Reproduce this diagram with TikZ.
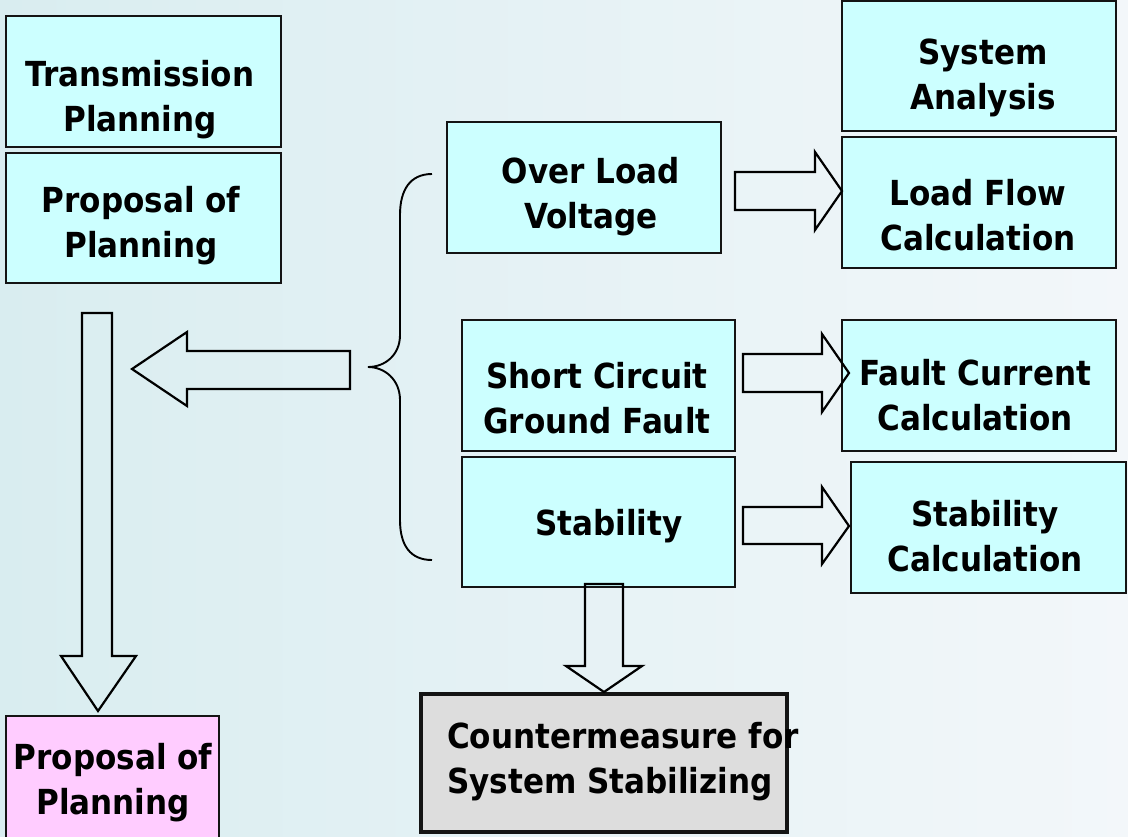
\documentclass[tikz,border=0pt]{standalone}
\usepackage{fontspec}
\setmainfont{DejaVu Sans Condensed}
\usetikzlibrary{fit}

\definecolor{bgleft}{RGB}{217,237,240}
\definecolor{bgright}{RGB}{243,247,250}
\definecolor{cyanbox}{RGB}{204,255,255}
\definecolor{pinkbox}{RGB}{255,204,255}
\definecolor{graybox}{RGB}{221,221,221}
\definecolor{edge}{RGB}{20,20,20}

\tikzset{
  box/.style={draw=edge, line width=2.3pt, fill=cyanbox, inner sep=0pt, rectangle},
  pinkrect/.style={box, fill=pinkbox},
  grayrect/.style={box, fill=graybox, line width=3.4pt},
  lbl/.style={inner sep=0pt, align=center, font=\fontsize{34.5}{45}\selectfont\bfseries},
  blockarrow/.style={draw=black, line width=2.2pt, line join=miter},
  bracket/.style={draw=black, line width=1.9pt},
}

\begin{document}
\begin{tikzpicture}[x=1pt, y=-1pt]
  \useasboundingbox (0,0) rectangle (1128,836);
  \shade[left color=bgleft, right color=bgright] (0,0) rectangle (1128,836);

  % left column
  \node[box, fit={(6,16) (281,147)}] (trans) {};
  \node[lbl] (transT) at (140,100) {Transmission\\Planning};
  \node[box, fit={(6,153) (281,283)}] (prop) {};
  \node[lbl] (propT) at (141,226) {Proposal of\\Planning};
  \node[pinkrect, fit={(6,716) (219,850)}] (final) {};
  \node[lbl] (finalT) at (113,783) {Proposal of\\Planning};

  % middle column
  \node[box, fit={(447,122) (721,253)}] (over) {};
  \node[lbl] (overT) at (591,197) {Over Load\\Voltage};
  \node[box, fit={(462,320) (735,451)}] (short) {};
  \node[lbl] (shortT) at (597,398) {Short Circuit\\Ground Fault};
  \node[box, fit={(462,457) (735,587)}] (stab) {};
  \node[lbl] (stabT) at (609,526) {Stability};
  \node[grayrect, fit={(421,694) (787,832)}] (counter) {};
  \node[lbl, align=left, anchor=west] (counterT) at (447,762) {Countermeasure for\\System Stabilizing};

  % right column
  \node[box, fit={(842,1) (1116,131)}] (sysan) {};
  \node[lbl] (sysanT) at (983,78) {System\\Analysis};
  \node[box, fit={(842,137) (1116,268)}] (flow) {};
  \node[lbl] (flowT) at (978,215) {Load Flow\\Calculation};
  \node[box, fit={(842,320) (1116,451)}] (fault) {};
  \node[lbl] (faultT) at (975,395) {Fault Current\\Calculation};
  \node[box, fit={(851,462) (1126,593)}] (stabc) {};
  \node[lbl] (stabcT) at (985,536) {Stability\\Calculation};

  % curly bracket grouping the three problem boxes
  \draw[bracket] (432,174) .. controls (410,174) and (400,190) .. (400,215)
    -- (400,335) .. controls (400,355) and (385,367) .. (368,367)
    .. controls (385,367) and (400,380) .. (400,400)
    -- (400,520) .. controls (400,545) and (410,560) .. (432,560);

  % block arrows
  \draw[blockarrow] (82,313) -- (112,313) -- (112,656) -- (136,656) -- (98,711)
    -- (61,656) -- (82,656) -- cycle;
  \draw[blockarrow] (350,351) -- (350,389) -- (187,389) -- (187,406) -- (132,369)
    -- (187,332) -- (187,351) -- cycle;
  \draw[blockarrow] (735,172) -- (815,172) -- (815,152) -- (842,191) -- (815,230)
    -- (815,210) -- (735,210) -- cycle;
  \draw[blockarrow] (743,354) -- (822,354) -- (822,334) -- (849,373) -- (822,412)
    -- (822,392) -- (743,392) -- cycle;
  \draw[blockarrow] (743,507) -- (822,507) -- (822,487) -- (849,526) -- (822,564)
    -- (822,544) -- (743,544) -- cycle;
  \draw[blockarrow] (585,584) -- (623,584) -- (623,666) -- (642,666) -- (604,692)
    -- (566,666) -- (585,666) -- cycle;
\end{tikzpicture}
\end{document}
